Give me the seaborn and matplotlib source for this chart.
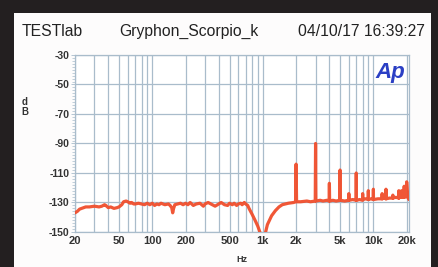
import matplotlib
matplotlib.use("Agg")
import matplotlib.pyplot as plt
import seaborn as sns
import pandas as pd
from matplotlib.patches import Rectangle
from matplotlib.ticker import FixedLocator, NullFormatter
from matplotlib import font_manager

# ---- data ----
freq_hz = [20, 21, 22, 24, 25, 27, 30, 33, 35, 37, 38, 40, 42, 45, 48, 50, 53, 55, 58,
           60, 63, 65, 68, 70, 75, 80, 85, 90, 95, 100, 105, 110, 115, 120, 130,
           140, 145, 150, 153, 156, 160, 170, 180, 190, 200, 210, 220, 235, 250, 270,
           290, 300, 320, 350, 370, 400, 420, 450, 480, 500, 530, 550, 580, 600, 630,
           650, 680, 700, 730, 750, 800, 850, 900, 940, 960, 1000, 1040, 1060, 1100,
           1200, 1300, 1400, 1500, 1700, 1900, 1980, 2000, 2020, 2200, 2500, 2700,
           2980, 3000, 3020, 3300, 3500, 3800, 3980, 4000, 4020, 4300, 4600, 4980,
           5000, 5020, 5500, 5980, 6000, 6020, 6500, 6980, 7000, 7020, 7500, 7980,
           8000, 8020, 8500, 8980, 9000, 9020, 9500, 9980, 10000, 10020, 11000, 11980,
           12000, 12020, 12500, 12980, 13000, 13020, 14000, 14980, 15000, 15020, 16000,
           16980, 17000, 17020, 17500, 17980, 18000, 18020, 18500, 18980, 19000, 19020,
           19500, 19980, 20000, 20300, 20600, 21000]
level_db = [-137, -136, -134.5, -133.5, -133, -133, -132.5, -133, -132.5, -131.5, -132,
            -133.5, -133, -134, -133.5, -133, -131.5, -129.5, -129, -129.5, -130.5,
            -130, -131, -131, -130.5, -131, -131.5, -130.5, -131.5, -130.5, -132,
            -131, -131.5, -130.5, -131.5, -131, -132, -133.5, -137, -134, -131.5,
            -131, -130.5, -131.5, -130.5, -131.5, -130, -132, -131, -130.5, -132.5,
            -131, -130, -131.5, -132.5, -131, -130, -131.5, -132, -130.5, -131.5,
            -130.5, -132, -131, -130.5, -131.5, -130, -131, -132, -134, -138, -142,
            -146, -150, -153, -160, -153, -150, -145, -139, -135.5, -133, -131.5,
            -130.5, -130, -129.5, -104, -129.5, -129.5, -129, -129.5, -129, -90, -129,
            -128.5, -129, -128.5, -129, -117, -129, -128.5, -129, -128.5, -108, -128.5,
            -129, -128.5, -124, -128.5, -128, -128.5, -110, -128.5, -128, -128.5, -124,
            -128, -127.5, -128, -122, -128, -127.5, -128, -121, -128, -127.5, -127.5,
            -124, -127.5, -127, -127.5, -121, -127.5, -127, -127, -125, -127, -126.5,
            -127, -122, -127, -126, -126.5, -122, -126.5, -126, -126.5, -119, -126.5,
            -126, -126, -116, -125, -127, -128]

x_tick_vals = [20, 50, 100, 200, 500, 1000, 2000, 5000, 10000, 20000]
x_tick_labels = ["20", "50", "100", "200", "500", "1k", "2k", "5k", "10k", "20k"]
y_tick_vals = [-30, -50, -70, -90, -110, -130, -150]

title_left = "TESTlab"
title_mid = "Gryphon_Scorpio_k"
title_right = "04/10/17 16:39:27"

df = pd.DataFrame({"Hz": freq_hz, "dB": level_db})

sns.set_theme(style="white")
plt.rcParams["font.family"] = ["Liberation Sans", "DejaVu Sans"]

installed = {f.name for f in font_manager.fontManager.ttflist}
tick_family = ["Liberation Sans Narrow", "Liberation Sans", "DejaVu Sans"] \
    if "Liberation Sans Narrow" in installed else ["Liberation Sans", "DejaVu Sans"]

W, H = 438, 267
fig = plt.figure(figsize=(W / 100, H / 100), dpi=100, facecolor="#231f20")
# white panel
fig.patches.append(Rectangle((14 / W, 0), (431 - 14) / W, (267 - 13) / H,
                             transform=fig.transFigure, facecolor="#fdfcfc",
                             edgecolor="none", zorder=-5))

ax = fig.add_axes([75 / W, 1 - 232 / H, (409 - 75) / W, (232 - 55) / H])
ax.set_zorder(2)
ax.set_facecolor("white")

grid_c = "#a9bccb"
sns.lineplot(data=df, x="Hz", y="dB", ax=ax, color="#f04e2c", linewidth=2.3,
             estimator=None, sort=False, zorder=3, alpha=0.95)
ax.set_xscale("log")
ax.set_xlim(20, 21000)
ax.set_ylim(-150, -30)

ax.set_xticks(x_tick_vals)
ax.set_xticklabels(x_tick_labels)
minor_x = [m * d for d in (10, 100, 1000, 10000) for m in range(2, 10)
           if 20 <= m * d <= 21000 and m * d not in x_tick_vals]
ax.xaxis.set_minor_locator(FixedLocator(minor_x))
ax.xaxis.set_minor_formatter(NullFormatter())
ax.set_yticks(y_tick_vals)
ax.set_yticklabels([str(v) for v in y_tick_vals])
ax.yaxis.set_minor_locator(FixedLocator(list(range(-150, -29, 2))))

ax.grid(True, which="major", axis="both", color=grid_c, linewidth=0.9)
ax.grid(True, which="minor", axis="x", color=grid_c, linewidth=0.9)
ax.tick_params(axis="x", which="both", length=0, pad=3, labelsize=8,
               labelcolor="#333333")
ax.tick_params(axis="y", which="major", length=3, width=0.6, color=grid_c, pad=1,
               labelsize=7.5, labelcolor="#333333", left=True)
ax.tick_params(axis="y", which="minor", length=2, width=0.5, color=grid_c, left=True)
for lab in ax.get_xticklabels() + ax.get_yticklabels():
    lab.set_fontweight("bold")
    lab.set_family(tick_family)
for s in ax.spines.values():
    s.set_color(grid_c)
    s.set_linewidth(0.9)

ax.set_xlabel("Hz", fontsize=6.5, color="#333333", fontweight="bold", labelpad=6)
ax.set_ylabel("")
fig.text(25 / W, 1 - 107 / H, "d\nB", fontsize=7, color="#333333", fontweight="bold",
         ha="center", va="center", linespacing=1.0)

fig.text(22 / W, 1 - 31 / H, title_left, fontsize=11.3, color="#222222",
         ha="left", va="center")
fig.text(189 / W, 1 - 31 / H, title_mid, fontsize=11.3, color="#222222",
         ha="center", va="center")
fig.text(425 / W, 1 - 31 / H, title_right, fontsize=11.3, color="#222222",
         ha="right", va="center")

# Ap logo
ax.text(0.99, 0.90, "Ap", transform=ax.transAxes, fontsize=16, color="#2b3fc4",
        fontstyle="italic", fontweight="bold", ha="right", va="center", zorder=5)

fig.savefig("out.png", dpi=100, facecolor=fig.get_facecolor())
